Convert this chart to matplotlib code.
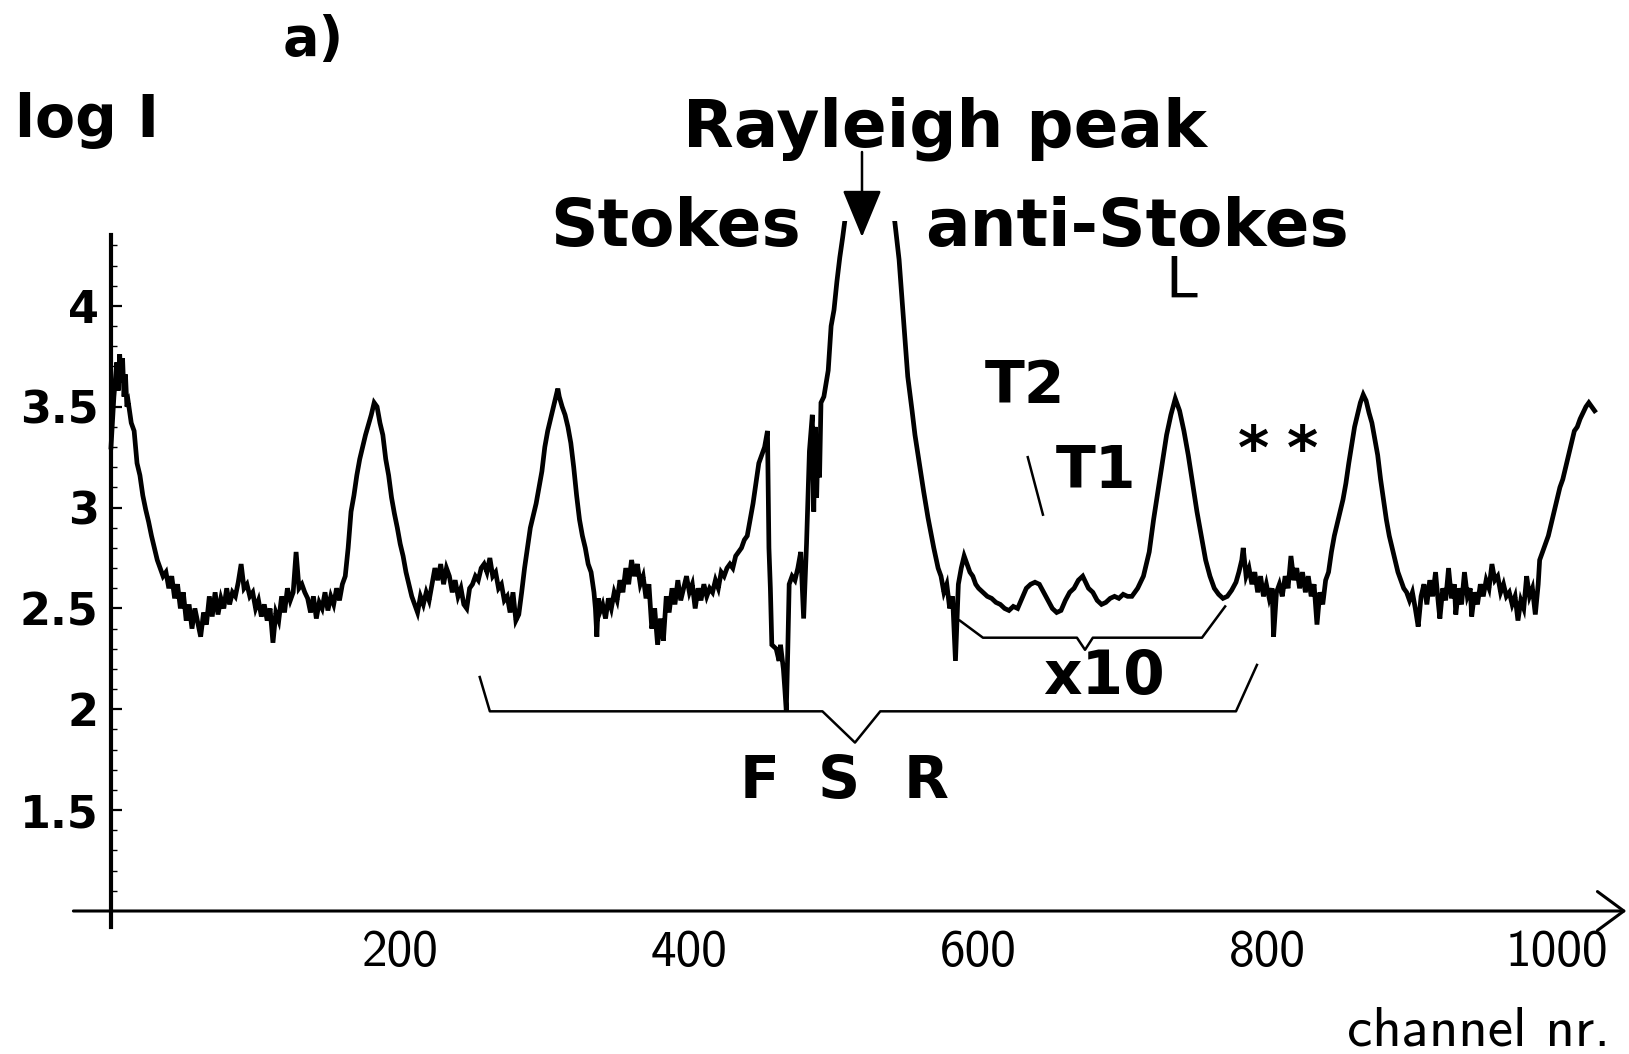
import matplotlib
matplotlib.use("Agg")
import matplotlib.pyplot as plt
import numpy as np

plt.rcParams["font.family"] = ["DejaVu Sans"]

# ---------------- data: (channel, log I) ----------------
first_order = [(0, 3.30), (2, 3.55), (4, 3.72), (5, 3.58), (6, 3.76), (7, 3.62), (8, 3.74), (9, 3.55),
               (10, 3.66), (11, 3.50), (12, 3.52), (14, 3.42), (16, 3.38), (18, 3.22), (20, 3.16),
               (22, 3.06), (24, 2.99), (26, 2.93), (28, 2.86), (30, 2.80), (32, 2.74), (34, 2.70),
               (36, 2.66), (38, 2.68), (40, 2.60), (42, 2.66), (44, 2.55), (46, 2.62), (48, 2.50),
               (50, 2.58), (52, 2.44), (54, 2.52), (56, 2.40), (58, 2.50), (60, 2.43), (62, 2.36),
               (64, 2.48), (66, 2.42), (68, 2.56), (70, 2.46), (72, 2.58), (74, 2.47), (76, 2.55),
               (78, 2.50), (80, 2.60), (82, 2.52), (84, 2.58), (86, 2.56), (88, 2.63), (90, 2.72),
               (92, 2.60), (94, 2.62), (96, 2.56), (98, 2.58), (100, 2.50), (102, 2.54), (104, 2.46),
               (106, 2.52), (108, 2.44), (110, 2.50), (112, 2.33), (114, 2.48), (116, 2.44), (118, 2.56),
               (120, 2.48), (122, 2.60), (124, 2.54), (126, 2.58), (128, 2.78), (130, 2.60), (132, 2.62),
               (134, 2.58), (136, 2.55), (138, 2.48), (140, 2.56), (142, 2.45), (144, 2.53), (146, 2.50),
               (148, 2.58), (150, 2.49), (152, 2.56), (154, 2.52), (156, 2.60), (158, 2.54), (160, 2.62),
               (162, 2.66)]

second_order = [(164, 2.80), (166, 2.98), (168, 3.06), (170, 3.16), (172, 3.24), (174, 3.30), (176, 3.36),
                (178, 3.41), (180, 3.46), (182, 3.52), (184, 3.50), (186, 3.42), (188, 3.36), (190, 3.24),
                (192, 3.16), (194, 3.05), (196, 2.97), (198, 2.90), (200, 2.82), (202, 2.76), (204, 2.68),
                (206, 2.62), (208, 2.56), (210, 2.52), (212, 2.48)]

third_order = [(214, 2.56), (216, 2.52), (218, 2.58), (220, 2.54), (222, 2.62), (224, 2.70), (226, 2.64),
               (228, 2.72), (230, 2.62), (232, 2.70), (234, 2.66), (236, 2.58), (238, 2.64), (240, 2.56),
               (242, 2.60), (244, 2.52), (246, 2.50), (248, 2.60), (250, 2.62), (252, 2.66), (254, 2.64),
               (256, 2.70), (258, 2.72), (260, 2.68), (262, 2.75), (264, 2.66), (266, 2.68), (268, 2.60),
               (270, 2.62), (272, 2.54), (274, 2.56), (276, 2.48), (278, 2.58), (280, 2.44), (282, 2.47),
               (284, 2.58), (286, 2.70), (288, 2.80), (290, 2.90), (292, 2.96), (294, 3.02), (296, 3.10),
               (298, 3.18), (300, 3.30), (302, 3.38), (304, 3.44), (306, 3.50), (308, 3.56), (309, 3.59),
               (310, 3.55), (312, 3.50), (314, 3.46), (316, 3.40), (318, 3.32), (320, 3.20), (322, 3.06),
               (324, 2.94), (326, 2.86), (328, 2.80), (330, 2.72), (332, 2.68), (334, 2.58), (335, 2.50),
               (336, 2.36), (337, 2.55)]

rayleigh_region = [(338, 2.48), (340, 2.52), (342, 2.45), (344, 2.55), (346, 2.50), (348, 2.58), (350, 2.54),
                   (352, 2.64), (354, 2.58), (356, 2.70), (358, 2.62), (360, 2.74), (362, 2.66), (364, 2.72),
                   (366, 2.62), (368, 2.66), (370, 2.55), (372, 2.62), (374, 2.40), (376, 2.50), (378, 2.32),
                   (380, 2.45), (382, 2.34), (384, 2.56), (386, 2.48), (388, 2.60), (390, 2.52), (392, 2.64),
                   (394, 2.54), (396, 2.60), (398, 2.66), (400, 2.58), (402, 2.62), (404, 2.50), (406, 2.60),
                   (408, 2.54), (410, 2.62), (412, 2.56), (414, 2.60), (416, 2.58), (418, 2.64), (420, 2.60),
                   (422, 2.68), (424, 2.66), (426, 2.70), (428, 2.72), (430, 2.70), (432, 2.76), (434, 2.78),
                   (436, 2.80), (438, 2.84), (440, 2.86), (442, 2.94), (444, 3.02), (446, 3.12), (448, 3.22),
                   (450, 3.26), (452, 3.30), (454, 3.38), (455, 2.80), (456, 2.60), (457, 2.32), (460, 2.30),
                   (462, 2.24), (463, 2.32), (465, 2.20), (466, 2.10), (467, 1.99), (468, 2.28), (469, 2.62),
                   (471, 2.66), (473, 2.64), (475, 2.70), (477, 2.78), (479, 2.45), (481, 2.82), (483, 3.28),
                   (485, 3.46), (486, 2.98), (487, 3.40), (488, 3.05), (489, 3.35), (490, 3.15), (491, 3.52),
                   (493, 3.55), (496, 3.68), (498, 3.90), (500, 3.98), (502, 4.12), (504, 4.24), (506, 4.34),
                   (508, 4.45), (512, 4.62), (519, 4.80), (526, 4.80), (534, 4.62), (542, 4.42), (545, 4.23),
                   (548, 3.94), (551, 3.65), (554, 3.48), (556, 3.36), (559, 3.22), (562, 3.08), (565, 2.95),
                   (569, 2.80), (572, 2.70), (574, 2.66), (576, 2.58), (578, 2.62), (580, 2.50), (582, 2.56),
                   (584, 2.24), (586, 2.62)]

magnified_x10 = [(588, 2.70), (590, 2.76), (592, 2.72), (594, 2.68), (596, 2.66), (598, 2.62), (600, 2.60),
                 (603, 2.58), (606, 2.56), (609, 2.55), (612, 2.53), (615, 2.52), (618, 2.50), (621, 2.49),
                 (624, 2.51), (627, 2.50), (630, 2.55), (633, 2.60), (636, 2.62), (639, 2.63), (642, 2.62),
                 (645, 2.58), (648, 2.54), (651, 2.50), (654, 2.48), (657, 2.49), (660, 2.54), (663, 2.58),
                 (666, 2.60), (669, 2.64), (672, 2.66), (674, 2.63), (676, 2.60), (679, 2.58), (682, 2.54),
                 (685, 2.52), (688, 2.53), (691, 2.55), (694, 2.56), (697, 2.55), (700, 2.57), (703, 2.56),
                 (706, 2.56), (710, 2.60), (714, 2.66), (718, 2.78), (721, 2.94), (724, 3.08), (727, 3.22),
                 (730, 3.36), (733, 3.46), (736, 3.54), (739, 3.48), (742, 3.38), (745, 3.26), (748, 3.12),
                 (751, 2.98), (754, 2.86), (757, 2.74), (760, 2.66), (763, 2.60), (766, 2.57), (769, 2.55),
                 (772, 2.56), (775, 2.59), (778, 2.63)]

anti_stokes_tail = [(780, 2.68), (782, 2.74), (783, 2.80), (785, 2.66), (787, 2.70), (789, 2.62), (791, 2.68),
                    (793, 2.58), (795, 2.66), (797, 2.56), (799, 2.62), (801, 2.55), (803, 2.60), (804, 2.36),
                    (806, 2.58), (808, 2.62), (810, 2.56), (812, 2.66), (814, 2.60), (816, 2.76), (818, 2.64),
                    (820, 2.70), (822, 2.60), (824, 2.68), (826, 2.58), (828, 2.66), (830, 2.56), (832, 2.62),
                    (834, 2.42), (836, 2.58), (838, 2.52), (840, 2.64), (842, 2.68), (844, 2.78), (846, 2.86),
                    (848, 2.92), (850, 2.98), (852, 3.04), (854, 3.12), (856, 3.22), (858, 3.31), (860, 3.40),
                    (862, 3.46), (864, 3.52), (866, 3.56), (868, 3.53), (870, 3.47), (872, 3.42), (874, 3.34),
                    (876, 3.26), (878, 3.14), (880, 3.04), (882, 2.94), (884, 2.86), (886, 2.80), (888, 2.74),
                    (890, 2.68), (892, 2.64), (894, 2.60), (896, 2.58), (898, 2.54), (900, 2.58), (902, 2.50),
                    (904, 2.41), (906, 2.56), (908, 2.62), (910, 2.52), (912, 2.64), (914, 2.56), (916, 2.68),
                    (918, 2.52), (919, 2.45), (921, 2.60), (923, 2.54), (925, 2.70), (927, 2.55), (929, 2.62),
                    (930, 2.47), (932, 2.60), (934, 2.52), (936, 2.68), (938, 2.56), (940, 2.60), (941, 2.46),
                    (943, 2.58), (945, 2.52), (947, 2.62), (949, 2.56), (951, 2.64), (953, 2.60), (955, 2.72),
                    (957, 2.64), (959, 2.66), (961, 2.58), (963, 2.62), (965, 2.56), (967, 2.58), (969, 2.52),
                    (971, 2.56), (973, 2.44), (975, 2.54), (977, 2.50), (979, 2.66), (981, 2.56), (983, 2.60),
                    (985, 2.47), (987, 2.62), (988, 2.74), (990, 2.78), (992, 2.82), (994, 2.86), (996, 2.92),
                    (998, 2.98), (1000, 3.04), (1002, 3.10), (1004, 3.14), (1006, 3.20), (1008, 3.26),
                    (1010, 3.32), (1012, 3.38), (1014, 3.40), (1016, 3.44), (1018, 3.47), (1020, 3.50),
                    (1022, 3.52), (1024, 3.50), (1026, 3.48)]

# annotation brackets (channel, log I)
fsr_bracket = [(255, 2.16), (262, 1.99), (492, 1.99), (514.5, 1.835), (532, 1.99), (778, 1.99), (792.5, 2.22)]
x10_bracket = [(587, 2.44), (603, 2.355), (668, 2.355), (673.6, 2.295), (679, 2.355), (754.5, 2.355), (770.5, 2.51)]
t2_pointer = [(634, 3.25), (644.5, 2.965)]

x_ticks = [200, 400, 600, 800, 1000]
y_ticks = [1.5, 2, 2.5, 3, 3.5, 4]
y_ticklabels = ["1.5", "2", "2.5", "3", "3.5", "4"]

# ---------------- layout ----------------
W, H = 1629, 1054
fig = plt.figure(figsize=(W / 100, H / 100), dpi=100)
X0_PX, PX_PER_CH = 111.0, 1.446
Y1_PX, PX_PER_UNIT = 911.0, 201.7
xlim = (-45, 1049.5)
ylim = (0.80, 4.42)
left_px = X0_PX + xlim[0] * PX_PER_CH
right_px = X0_PX + xlim[1] * PX_PER_CH
top_px = Y1_PX - (ylim[1] - 1) * PX_PER_UNIT
bottom_px = Y1_PX - (ylim[0] - 1) * PX_PER_UNIT
ax = fig.add_axes([left_px / W, 1 - bottom_px / H, (right_px - left_px) / W, (bottom_px - top_px) / H])
ax.set_xlim(*xlim)
ax.set_ylim(*ylim)
ax.patch.set_alpha(0)

spectrum = first_order + second_order + third_order + rayleigh_region + magnified_x10 + anti_stokes_tail
ch, logI = zip(*spectrum)
ax.plot(ch, logI, color="black", lw=3.4, solid_joinstyle="miter")

for br in (fsr_bracket, x10_bracket, t2_pointer):
    bx, by = zip(*br)
    ax.plot(bx, by, color="black", lw=1.8)

# axes
for s in ("top", "right"):
    ax.spines[s].set_visible(False)
ax.spines["left"].set_position(("data", 0))
ax.spines["left"].set_bounds(0.92, 4.35)
ax.spines["left"].set_linewidth(3.0)
ax.spines["bottom"].set_position(("data", 1))
ax.spines["bottom"].set_color("none")
ax.annotate("", xy=(1048, 1), xytext=(-26, 1), xycoords="data",
            arrowprops=dict(arrowstyle="->,head_length=0.95,head_width=0.7", lw=2.2,
                            color="black", mutation_scale=20, shrinkA=0, shrinkB=0),
            annotation_clip=False)

ax.set_yticks(y_ticks)
ax.set_yticklabels(y_ticklabels, fontsize=32, fontweight="bold")
ax.set_yticks(np.arange(1.1, 4.35, 0.1), minor=True)
ax.tick_params(axis="y", which="major", direction="in", length=8, width=1.6, pad=9)
ax.tick_params(axis="y", which="minor", direction="in", length=4, width=1.0)
ax.set_xticks(x_ticks)
ax.set_xticklabels([str(v) for v in x_ticks], fontsize=37, fontfamily="cmss10")
ax.tick_params(axis="x", which="major", length=0, pad=14)


def ftext(x, y, s, **kw):
    fig.text(x / W, 1 - y / H, s, **kw)


ftext(313, 55, "a)", fontsize=39, fontweight="bold", ha="center", va="baseline")
ftext(15, 137, "log I", fontsize=42, fontweight="bold", ha="left", va="baseline")
ftext(945, 147, "Rayleigh peak", fontsize=47.5, fontweight="bold", ha="center", va="baseline")
ftext(676, 246, "Stokes", fontsize=47.5, fontweight="bold", ha="center", va="baseline")
ftext(1137, 246, "anti-Stokes", fontsize=47.5, fontweight="bold", ha="center", va="baseline")
ftext(1165, 298, "L", fontsize=41, ha="left", va="baseline")
ftext(985, 403, "T2", fontsize=42, fontweight="bold", ha="left", va="baseline")
ftext(1056, 488, "T1", fontsize=42, fontweight="bold", ha="left", va="baseline")
ftext(1253, 469, "*", fontsize=43, fontweight="bold", ha="center", va="baseline")
ftext(1302, 469, "*", fontsize=43, fontweight="bold", ha="center", va="baseline")
ftext(1043, 694, "x10", fontsize=43, fontweight="bold", ha="left", va="baseline")
ftext(760, 798, "F", fontsize=42, fontweight="bold", ha="center", va="baseline")
ftext(839, 798, "S", fontsize=42, fontweight="bold", ha="center", va="baseline")
ftext(926, 798, "R", fontsize=42, fontweight="bold", ha="center", va="baseline")
ftext(1610, 1046, "channel nr.", fontsize=41, fontfamily="cmss10", ha="right", va="baseline")

# Rayleigh arrow
fig.add_artist(matplotlib.patches.FancyArrowPatch(
    (862, H - 152), (862, H - 237), transform=None,
    arrowstyle="-|>,head_length=1.5,head_width=0.62", mutation_scale=20,
    lw=1.8, color="black", shrinkA=0, shrinkB=0))

fig.savefig("out.png", dpi=100)
